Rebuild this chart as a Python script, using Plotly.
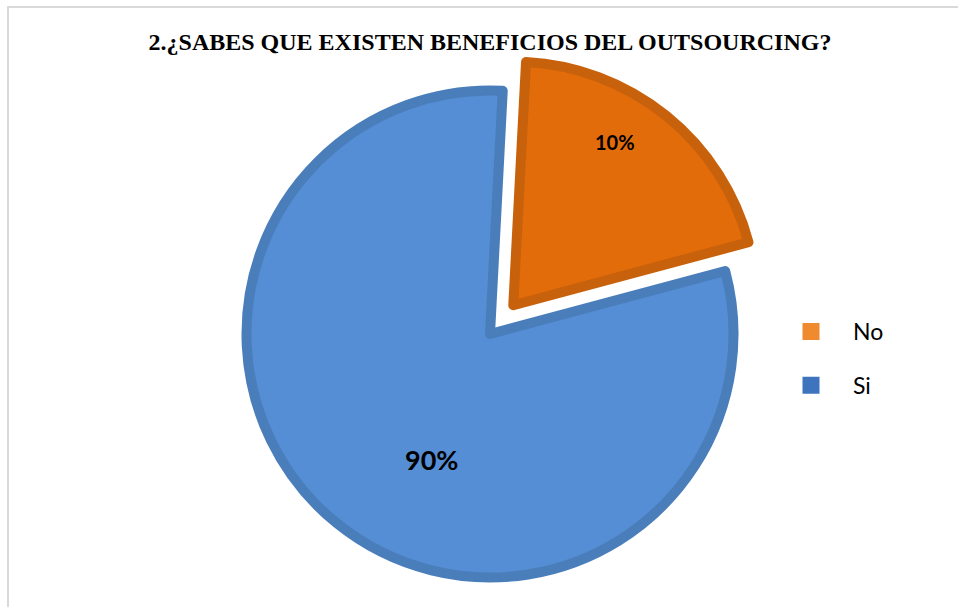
import math
import plotly.graph_objects as go

# ---- data ----
categories = ["No", "Si"]
slice_values = [20, 80]          # slice sizes as drawn in the picture
label_texts = ["10%", "90%"]     # data labels as printed on the chart
title_text = "2.¿SABES QUE EXISTEN BENEFICIOS DEL OUTSOURCING?"

# ---- styling ----
W, H = 958, 607
fill_colors = ["#e36c0a", "#558ed5"]
edge_colors = ["#c8610b", "#4a7ebb"]
legend_colors = ["#f08a2e", "#3e74be"]
legend_edges = ["#f08a2e", "#3e74be"]
label_sizes = [20, 27]
TRANSPARENT = "rgba(0,0,0,0)"

R = 243.5            # pie radius (px)
CX, CY = 490, 334    # pie centre (px)
ROT = 3              # first slice start angle (deg, clockwise from 12 o'clock)
EXPLODE = 37         # explosion distance of the "No" slice (px)
# data-label placement: (angle deg clockwise from 12 o'clock, fraction of radius)
label_polar = [(32, 0.79), (205, 0.57)]


def domain(cx, cy, r):
    return dict(x=[(cx - r) / W, (cx + r) / W],
                y=[1 - (cy + r) / H, 1 - (cy - r) / H])


total = sum(slice_values)
mid = math.radians(ROT + 360 * slice_values[0] / total / 2)
ex_cx = CX + EXPLODE * math.sin(mid)
ex_cy = CY - EXPLODE * math.cos(mid)
centres = [(ex_cx, ex_cy), (CX, CY)]

common = dict(labels=categories, values=slice_values, sort=False,
              direction="clockwise", rotation=ROT, textinfo="none",
              hoverinfo="label+percent", showlegend=False)

fig = go.Figure()

# legend-only pies (hidden underneath the main pie)
for i, cat in enumerate(categories):
    fig.add_trace(go.Pie(labels=[cat], values=[slice_values[i]], sort=False,
                         marker=dict(colors=[legend_colors[i]],
                                     line=dict(color=legend_edges[i], width=5)),
                         textinfo="none", hoverinfo="skip",
                         domain=domain(400, 470, 6), legendgroup=cat,
                         showlegend=True))

# main pie (the "Si" slice)
fig.add_trace(go.Pie(**common, domain=domain(CX, CY, R),
                     marker=dict(colors=[TRANSPARENT, fill_colors[1]],
                                 line=dict(color=[TRANSPARENT, edge_colors[1]], width=10))))

# exploded "No" slice
fig.add_trace(go.Pie(**common, domain=domain(ex_cx, ex_cy, R),
                     marker=dict(colors=[fill_colors[0], TRANSPARENT],
                                 line=dict(color=[edge_colors[0], TRANSPARENT], width=10))))

annotations = []
for i, txt in enumerate(label_texts):
    ang, frac = label_polar[i]
    cx, cy = centres[i]
    px = cx + frac * R * math.sin(math.radians(ang))
    py = cy - frac * R * math.cos(math.radians(ang))
    annotations.append(dict(text=txt, x=px / W, y=1 - py / H, xref="paper", yref="paper",
                            xanchor="center", yanchor="middle", showarrow=False,
                            font=dict(family="Lato", size=label_sizes[i], color="black",
                                      weight="bold")))

fig.update_layout(
    width=W, height=H,
    margin=dict(l=0, r=0, t=0, b=0),
    paper_bgcolor="white", plot_bgcolor="white",
    title=dict(text=title_text, x=490 / W, xanchor="center",
               y=1 - 42 / H, yanchor="middle",
               font=dict(family="Liberation Serif", size=24, color="black", weight="bold")),
    legend=dict(x=769 / W, y=1 - 310 / H, xanchor="left", yanchor="top",
                font=dict(family="Lato", size=23, color="black"),
                itemwidth=74, tracegroupgap=21, bgcolor=TRANSPARENT),
    annotations=annotations,
    shapes=[dict(type="rect", xref="paper", yref="paper",
                 x0=8 / W, y0=-0.02, x1=1.02, y1=1 - 7 / H,
                 line=dict(color="#d9d9d9", width=2), fillcolor=TRANSPARENT,
                 layer="below")],
)

fig.write_html("out.html", config={"displayModeBar": False},
               post_script="document.body.style.margin='0';")
